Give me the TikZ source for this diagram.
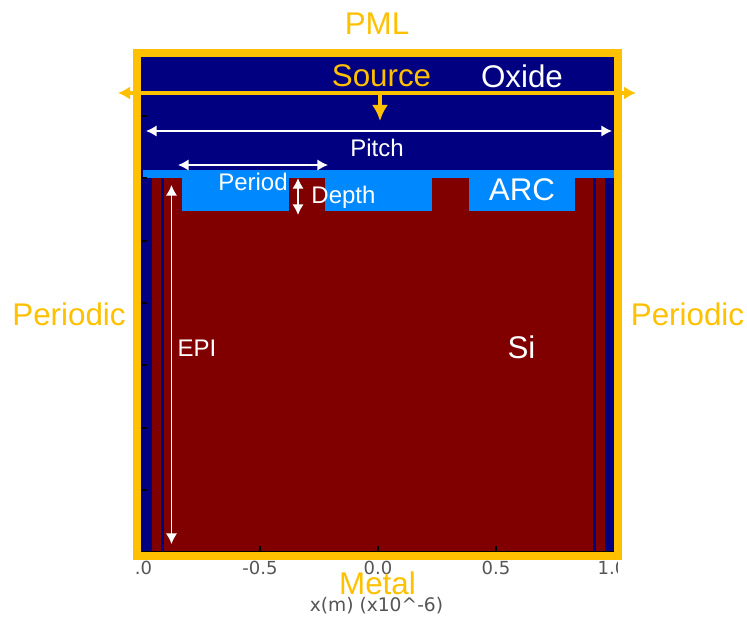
\documentclass[tikz,border=0pt]{standalone}
\usepackage{fontspec}
\setmainfont{Liberation Sans}
\newfontfamily\axisfont{DejaVu Sans}
\usetikzlibrary{arrows.meta}
\definecolor{navyfill}{RGB}{0,0,128}
\definecolor{sifill}{RGB}{128,0,0}
\definecolor{arcfill}{RGB}{0,136,255}
\definecolor{goldc}{RGB}{255,192,0}
\definecolor{axisc}{RGB}{85,85,85}
\tikzset{
  bigy/.style={text=goldc,font=\fontsize{23.5}{26}\selectfont,inner sep=0pt},
  bigw/.style={text=white,font=\fontsize{23.5}{26}\selectfont,inner sep=0pt},
  smallw/.style={text=white,font=\fontsize{18}{20}\selectfont,inner sep=0pt},
  whitearrow/.style={draw=white,line width=1.2pt,{Latex[length=8pt,width=8.5pt]}-{Latex[length=8pt,width=8.5pt]}},
  goldarrow/.style={draw=goldc,line width=2.8pt,-{Latex[length=12pt,width=12pt]}},
  goldline/.style={draw=goldc,line width=2.8pt,{Latex[length=9pt,width=10pt]}-{Latex[length=9pt,width=10pt]}},
  ticklab/.style={text=axisc,font=\axisfont\fontsize{13.5}{15}\selectfont,inner sep=0pt},
  tickmark/.style={draw=black,line width=1.3pt},
  arcblock/.style={fill=arcfill,draw=none}
}
\begin{document}
\begin{tikzpicture}[x=0.75pt,y=-0.75pt]
\useasboundingbox (0,0) rectangle (747,617);
\fill[navyfill] (141,57) rectangle (614,552);
\fill[sifill] (152,178) rectangle (605,552);
\fill[navyfill] (161.3,178) rectangle (163.6,552);
\fill[navyfill] (593,178) rectangle (595.7,552);
\fill[arcfill] (143,170) rectangle (614,178);
\fill[arcblock] (182,177) rectangle (288.5,210.5);
\fill[arcblock] (325,177) rectangle (432,210.5);
\fill[arcblock] (468.5,177) rectangle (575,210.5);
% axes
\foreach \yy in {116,178,241,303,365,428,490}
  \draw[tickmark] (141,\yy) -- (147,\yy);
\foreach \xx in {260,378,496}
  \draw[tickmark] (\xx,552) -- (\xx,546);
\draw[draw=black,line width=1pt] (141,551.5) -- (614,551.5);
\draw[draw=goldc,line width=6pt] (137,53) rectangle (617.7,556.3);
% gold arrows
\coordinate (bl) at (118,93);
\coordinate (br) at (636,93);
\coordinate (sa) at (380,94);
\coordinate (sb) at (380,121);
\draw[goldline] (bl) -- (br);
\draw[goldarrow] (sa) -- (sb);
% white arrows
\coordinate (pa) at (146,131); \coordinate (pb) at (612,131);
\coordinate (qa) at (178,165); \coordinate (qb) at (328,165);
\coordinate (da) at (298,178); \coordinate (db) at (298,215);
\coordinate (ea) at (171.5,185); \coordinate (eb) at (171.5,544);
\draw[whitearrow] (pa) -- (pb);
\draw[whitearrow] (qa) -- (qb);
\draw[whitearrow] (da) -- (db);
\draw[whitearrow] (ea) -- (eb);
% labels
\node[bigy] (pml) at (377,24) {PML};
\node[bigy] (src) at (381.5,76) {Source};
\node[bigw] (oxide) at (522,76) {Oxide};
\node[smallw] (pitch) at (377,148) {Pitch};
\node[smallw] (period) at (253,182) {Period};
\node[smallw] (depth) at (343.5,197) {Depth};
\node[bigw] (arc) at (522,190) {ARC};
\node[smallw] (epi) at (197,348) {EPI};
\node[bigw] (si) at (521.5,347) {Si};
\node[bigy] (perl) at (69,314) {Periodic};
\node[bigy] (perr) at (687.5,314) {Periodic};
% axis labels
\node[ticklab] (t1) at (143.5,568) {.0};
\node[ticklab] (t2) at (260,568) {-0.5};
\node[ticklab] (t3) at (378,568) {0.0};
\node[ticklab] (t4) at (496,568) {0.5};
\begin{scope}
\clip (595,555) rectangle (617,585);
\node[ticklab] (t5) at (612,568) {1.0};
\end{scope}
\node[bigy] (metal) at (377.5,583) {Metal};
\node[text=axisc,font=\axisfont\fontsize{14}{16}\selectfont,inner sep=0pt] (xl) at (376.5,606) {x(m) (x10\^{}-6)};
\end{tikzpicture}
\end{document}
